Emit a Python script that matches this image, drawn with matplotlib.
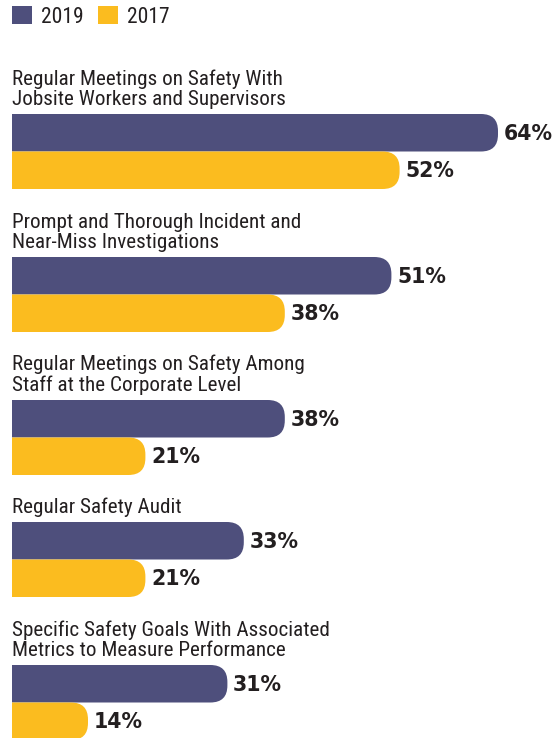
import matplotlib
matplotlib.use("Agg")
import matplotlib.pyplot as plt
from matplotlib.patches import FancyBboxPatch, Patch

# data
categories = [
    "Regular Meetings on Safety With\nJobsite Workers and Supervisors",
    "Prompt and Thorough Incident and\nNear-Miss Investigations",
    "Regular Meetings on Safety Among\nStaff at the Corporate Level",
    "Regular Safety Audit",
    "Specific Safety Goals With Associated\nMetrics to Measure Performance",
]
vals_2019 = [64, 51, 38, 33, 31]
vals_2017 = [52, 38, 21, 21, 14]
series = ["2019", "2017"]

c2019 = "#4e4f7c"
c2017 = "#fbbc1f"
txt = "#231f20"
label_font = ["Roboto Condensed", "Liberation Sans Narrow", "DejaVu Sans"]
pct_font = ["DejaVu Sans"]

W, H = 557, 738
fig = plt.figure(figsize=(W / 100, H / 100), dpi=100)
fig.patch.set_facecolor("white")

# x axis: 8.2 px per percent, 0% sits left of the page edge
px_per = 8.2
left_px = 12
x0 = (left_px + 26.8) / px_per
x1 = x0 + (W - left_px) / px_per
ax = fig.add_axes([left_px / W, 0, (W - left_px) / W, 1])
ax.set_xlim(x0, x1)
ax.set_ylim(H, 0)  # y in pixel rows from top
ax.axis("off")

bar_h = 37.5
radius_px = 17
aspect = px_per  # y units (px) per x unit for the rounding

y_top = 114
prev_bottom = None
for i, cat in enumerate(categories):
    nlines = cat.count("\n") + 1
    if prev_bottom is not None:
        y_top = prev_bottom + 38 + 21 * (nlines - 1) + 9
    # label: last line baseline 9 px above the bar
    ax.text(x0, y_top - 9, cat, ha="left", va="baseline", fontsize=15.2,
            family=label_font, color=txt, linespacing=1.08)
    for j, (v, col) in enumerate([(vals_2019[i], c2019), (vals_2017[i], c2017)]):
        yb = y_top + j * bar_h
        p = FancyBboxPatch((0, yb), v, bar_h,
                           boxstyle=f"round,pad=0,rounding_size={radius_px / px_per}",
                           mutation_aspect=aspect, fc=col, ec="none")
        ax.add_patch(p)
        ax.annotate(f"{v}%", (v, yb + bar_h / 2 + 1), xytext=(4, 0),
                    textcoords="offset points", ha="left", va="center",
                    fontsize=14.8, fontweight="bold", family=pct_font,
                    color=txt, annotation_clip=False)
    prev_bottom = y_top + 2 * bar_h

handles = [Patch(fc=c2019, ec="none"), Patch(fc=c2017, ec="none")]
leg = fig.legend(handles, series, loc="upper left",
                 bbox_to_anchor=(left_px / W, 1 - 6 / H), ncol=2, frameon=False,
                 prop={"family": label_font, "size": 15.5},
                 handlelength=0.93, handleheight=0.93, handletextpad=0.4,
                 columnspacing=0.7, borderpad=0, borderaxespad=0)
for t in leg.get_texts():
    t.set_color(txt)

fig.savefig("out.png", dpi=100, facecolor="white")
